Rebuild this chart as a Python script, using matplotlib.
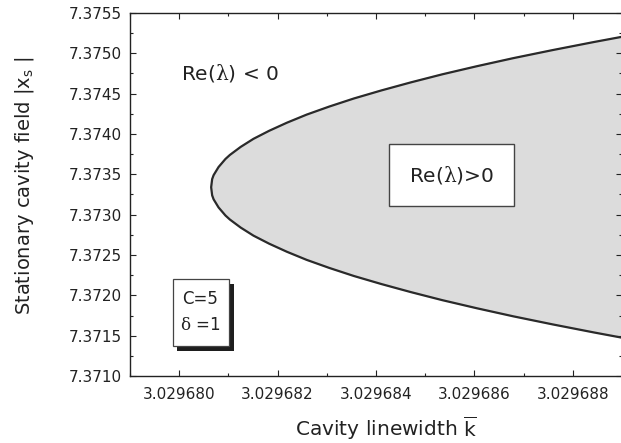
import matplotlib
matplotlib.use('Agg')
from matplotlib import pyplot as plt
from matplotlib.patches import Rectangle
from matplotlib.ticker import MultipleLocator, FormatStrFormatter

plt.rcParams['font.family'] = ['DejaVu Sans']
plt.rcParams['mathtext.fontset'] = 'custom'
plt.rcParams['mathtext.rm'] = 'DejaVu Sans'
plt.rcParams['mathtext.it'] = 'DejaVu Serif'

# instability boundary in the (k, |x_s|) plane
k_tip = 3.02968065
xs_tip = 7.37334
k_branch = [3.02968066, 3.02968067, 3.02968070, 3.02968075, 3.02968080,
            3.02968087, 3.02968094, 3.02968103, 3.02968114, 3.02968125,
            3.02968151, 3.02968183, 3.02968219, 3.02968259, 3.02968305,
            3.02968355, 3.02968411, 3.02968471, 3.02968535, 3.02968605,
            3.02968679, 3.02968759, 3.02968843, 3.02968931]
xs_upper = [7.37339, 7.37344, 7.37349, 7.37354, 7.37359,
            7.37364, 7.37369, 7.37374, 7.37379, 7.37384,
            7.37394, 7.37404, 7.37414, 7.37424, 7.37434,
            7.37444, 7.37454, 7.37464, 7.37474, 7.37484,
            7.37494, 7.37504, 7.37514, 7.37524]
xs_lower = [7.37329, 7.37324, 7.37319, 7.37314, 7.37309,
            7.37304, 7.37299, 7.37294, 7.37289, 7.37284,
            7.37274, 7.37264, 7.37254, 7.37244, 7.37234,
            7.37224, 7.37214, 7.37204, 7.37194, 7.37184,
            7.37174, 7.37164, 7.37154, 7.37144]

x_range = (3.029679, 3.029689)
y_range = (7.3710, 7.3755)

ink = '#222222'

fig = plt.figure(figsize=(6.21, 4.43), dpi=100)
ax = fig.add_axes([0.2093, 0.1512, 0.7923, 0.8195])

curve_k = k_branch[::-1] + [k_tip] + k_branch
curve_xs = xs_lower[::-1] + [xs_tip] + xs_upper

ax.fill(curve_k, curve_xs, color='#dcdcdc', zorder=1)
ax.plot(curve_k, curve_xs, color='#2a2a2a', lw=1.6, zorder=2)

ax.set_xlim(*x_range)
ax.set_ylim(*y_range)

ax.xaxis.set_major_locator(MultipleLocator(2e-6))
ax.xaxis.set_minor_locator(MultipleLocator(1e-6))
ax.yaxis.set_major_locator(MultipleLocator(0.0005))
ax.yaxis.set_minor_locator(MultipleLocator(0.00025))
ax.xaxis.set_major_formatter(FormatStrFormatter('%.6f'))
ax.yaxis.set_major_formatter(FormatStrFormatter('%.4f'))

ax.tick_params(which='both', direction='in', top=True, right=True,
               color=ink, width=0.8, labelcolor=ink, labelsize=11)
ax.tick_params(which='major', length=4)
ax.tick_params(which='minor', length=2)
ax.tick_params(axis='x', pad=8)
ax.tick_params(axis='y', pad=6)
for sp in ax.spines.values():
    sp.set_color(ink)
    sp.set_linewidth(1.0)

ax.set_xlabel(r'Cavity linewidth $\overline{\mathrm{k}}$', fontsize=14.5,
              color=ink)
ax.xaxis.set_label_coords(0.52, -0.105)
ax.set_ylabel(r'Stationary cavity field |x$_{\mathrm{s}}$ |', fontsize=14,
              color=ink)
ax.yaxis.set_label_coords(-0.19, 0.525)

ax.text(0.203, 0.835, r'Re($\lambda$) < 0', transform=ax.transAxes,
        ha='center', va='center', fontsize=14.5, color=ink)
ax.text(0.653, 0.554, r'Re($\lambda$)>0', transform=ax.transAxes,
        ha='center', va='center', fontsize=14.5, color=ink, zorder=5,
        bbox=dict(boxstyle='square,pad=1.0', fc='white', ec='#444444', lw=1.0))

# parameter box with drop shadow
ax.add_patch(Rectangle((0.0955, 0.0689), 0.1159, 0.1845, transform=ax.transAxes,
                       fc='#1e1e1e', ec='none', zorder=4))
ax.add_patch(Rectangle((0.0868, 0.0826), 0.1144, 0.1845, transform=ax.transAxes,
                       fc='white', ec='#444444', lw=0.9, zorder=5))
ax.text(0.142, 0.212, 'C=5', transform=ax.transAxes, ha='center', va='center',
        fontsize=12, color=ink, zorder=6)
ax.text(0.142, 0.1405, r'$\delta$ =1', transform=ax.transAxes, ha='center',
        va='center', fontsize=12, color=ink, zorder=6)

plt.savefig('out.png', dpi=100)
plt.close(fig)
